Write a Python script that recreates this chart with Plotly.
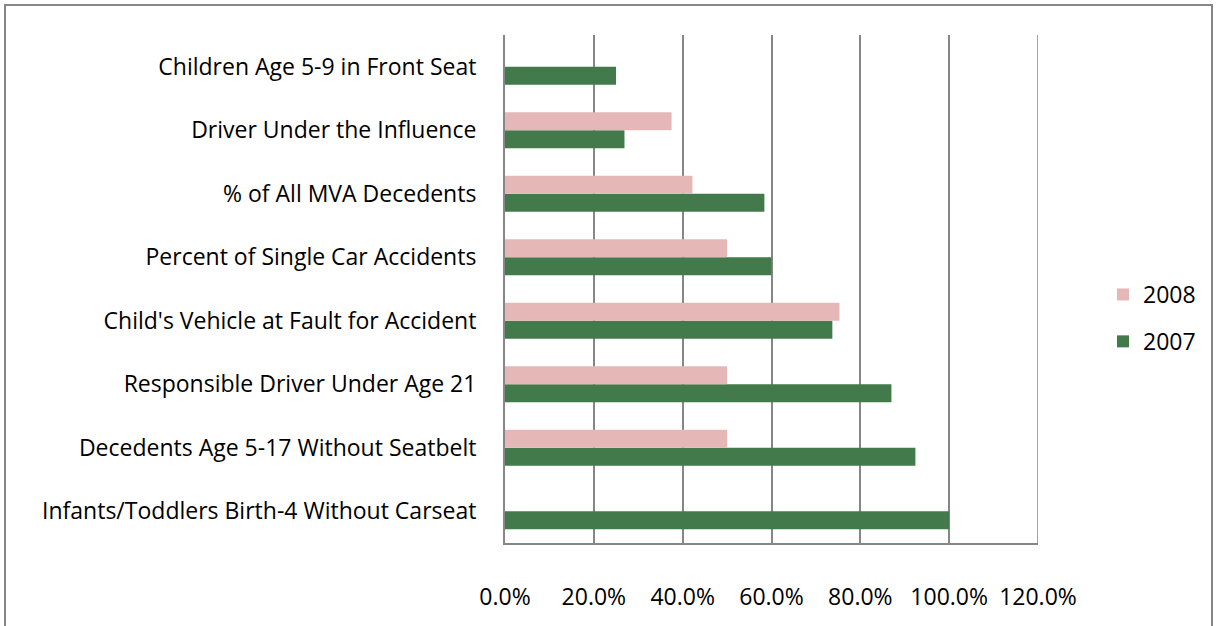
import plotly.graph_objects as go

# categories listed bottom -> top (plotly draws the first category at the bottom)
categories = [
    "Infants/Toddlers Birth-4 Without Carseat",
    "Decedents Age 5-17 Without Seatbelt",
    "Responsible Driver Under Age 21",
    "Child's Vehicle at Fault for Accident",
    "Percent of Single Car Accidents",
    "% of All MVA Decedents",
    "Driver Under the Influence",
    "Children Age 5-9 in Front Seat",
]
values_2007 = [1.00, 0.924, 0.870, 0.737, 0.600, 0.584, 0.269, 0.250]
values_2008 = [0.0, 0.50, 0.50, 0.753, 0.50, 0.422, 0.375, 0.0]
x_ticks = [0, 0.2, 0.4, 0.6, 0.8, 1.0, 1.2]

GREEN = "#437A4B"
PINK = "#E5B8B7"
GRID = "#868686"
FONT = "Open Sans"

fig = go.Figure()
fig.add_trace(go.Bar(y=categories, x=values_2007, name="2007", orientation="h",
                     legendgroup="g2007", legendrank=2,
                     marker=dict(color=GREEN, line=dict(width=0))))
fig.add_trace(go.Bar(y=categories, x=values_2008, name="2008", orientation="h",
                     legendgroup="g2008", legendrank=1,
                     marker=dict(color=PINK, line=dict(width=0))))

# plot area in pixels: x 505..1038, y 35..543
L, R, T, B = 505, 1217 - 1038, 35, 626 - 543
W, H = 1217 - L - R, 626 - T - B


def px_x(p):
    return (p - L) / W


def px_y(p):
    return (626 - B - p) / H


fig.update_layout(
    width=1217, height=626,
    margin=dict(l=L, r=R, t=T, b=B, pad=0, autoexpand=False),
    paper_bgcolor="white", plot_bgcolor="white",
    barmode="group", bargap=0.43, bargroupgap=0,
    font=dict(family=FONT, size=23, color="#000000"),
    showlegend=True,
    legend=dict(x=px_x(1103), y=px_y(273), xanchor="left", yanchor="top",
                traceorder="grouped", font=dict(size=23),
                itemwidth=30, tracegroupgap=14, bgcolor="rgba(0,0,0,0)"),
    shapes=[
        # outer chart border
        dict(type="rect", xref="paper", yref="paper",
             x0=px_x(5), x1=px_x(1212), y0=px_y(640), y1=px_y(5),
             line=dict(color=GRID, width=2), layer="below"),
        # last gridline at the right edge (plotly skips it at the range end)
        dict(type="line", xref="x", yref="paper",
             x0=x_ticks[-1], x1=x_ticks[-1], y0=0, y1=1,
             line=dict(color=GRID, width=1.5), layer="below"),
    ],
)
fig.update_xaxes(range=[0, 1.2], tickvals=x_ticks, tickformat=".1%",
                 showgrid=True, gridcolor=GRID, gridwidth=1.5,
                 zeroline=False, showline=True, linecolor=GRID, linewidth=2,
                 mirror=False, ticks="", ticklabelstandoff=32,
                 automargin=False, tickfont=dict(size=23))
fig.update_yaxes(showgrid=False, zeroline=False, showline=True,
                 linecolor=GRID, linewidth=2, ticks="", automargin=False,
                 ticklabelstandoff=22, tickfont=dict(size=23))

# drop the browser's default 8px body margin so the figure sits at 0,0
fig.write_html("out.html", config={"displayModeBar": False},
               post_script="document.body.style.margin='0';")
